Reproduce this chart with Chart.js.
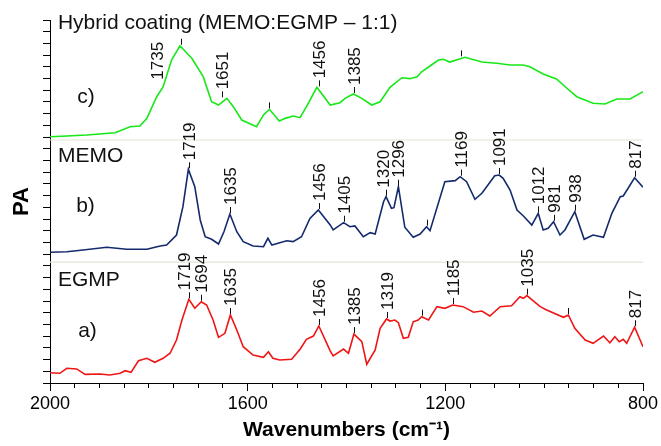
<!DOCTYPE html>
<html>
<head>
<meta charset="utf-8">
<script src="https://cdn.jsdelivr.net/npm/chart.js@4.4.1/dist/chart.umd.min.js"></script>
<style>
  html, body { margin: 0; padding: 0; background: #fff; }
</style>
</head>
<body>
<canvas id="ftir" width="661" height="446"></canvas>
<script>
// Spectra: wavenumber (cm-1) and PA signal (arbitrary offset units)
const hybridWn = [2000, 1966, 1926, 1868, 1838, 1818, 1804, 1784, 1771, 1754, 1737, 1713, 1690, 1673, 1659, 1642, 1629, 1612, 1582, 1568,
  1556, 1536, 1524, 1508, 1494, 1481, 1460, 1433, 1413, 1403, 1386, 1369, 1349, 1332, 1312, 1288, 1272, 1257, 1248, 1231,
  1214, 1204, 1191, 1160, 1126, 1096, 1069, 1042, 1029, 1002, 975, 954, 934, 901, 877, 853, 826, 800];
const hybridPA = [21.03, 21.09, 21.18, 21.37, 21.89, 21.95, 22.60, 24.45, 25.30, 27.58, 28.80, 27.73, 26.16, 24.02, 23.74, 24.31, 23.60, 22.46, 21.89, 22.89,
  23.37, 22.37, 22.60, 22.80, 22.66, 23.60, 25.25, 23.74, 23.94, 24.31, 24.68, 24.31, 23.74, 24.02, 25.25, 26.07, 25.99, 26.16, 26.58, 27.07,
  27.58, 27.64, 27.41, 27.81, 27.41, 27.30, 27.16, 27.16, 27.01, 26.39, 25.96, 25.17, 24.45, 23.89, 23.83, 24.25, 24.25, 24.88];

const memoWn = [2000, 1966, 1933, 1885, 1845, 1804, 1777, 1764, 1744, 1731, 1720, 1707, 1696, 1686, 1673, 1659, 1648, 1636, 1622, 1609,
  1589, 1568, 1559, 1551, 1535, 1521, 1508, 1491, 1474, 1457, 1433, 1427, 1406, 1393, 1383, 1366, 1352, 1342, 1325, 1320,
  1309, 1304, 1295, 1282, 1265, 1251, 1238, 1231, 1201, 1180, 1170, 1157, 1140, 1126, 1100, 1091, 1083, 1069, 1055, 1042,
  1025, 1012, 1002, 992, 981, 968, 958, 938, 919, 901, 880, 863, 846, 840, 817, 800];
const memoPA = [11.16, 11.21, 11.36, 11.59, 11.42, 11.42, 11.70, 11.78, 12.64, 15.06, 18.25, 16.76, 13.92, 12.49, 12.27, 11.87, 12.92, 14.43, 12.92, 12.07,
  11.70, 11.64, 12.36, 11.78, 11.98, 12.15, 12.07, 12.49, 14.06, 14.77, 13.50, 13.07, 13.69, 13.35, 13.41, 12.49, 12.84, 12.72, 15.48, 15.91,
  14.92, 14.97, 16.76, 13.30, 12.44, 12.72, 13.35, 13.01, 17.19, 17.28, 17.62, 17.19, 15.69, 16.20, 17.70, 17.76, 17.48, 16.48, 14.77, 14.26,
  13.49, 14.49, 13.07, 13.21, 13.77, 12.64, 13.07, 14.63, 12.27, 12.64, 12.44, 14.49, 15.91, 15.97, 17.53, 16.71];

const egmpWn = [2000, 1980, 1966, 1946, 1929, 1899, 1879, 1858, 1848, 1836, 1821, 1804, 1788, 1771, 1757, 1744, 1733, 1719, 1707, 1694,
  1683, 1670, 1659, 1646, 1635, 1622, 1609, 1589, 1568, 1558, 1549, 1535, 1511, 1494, 1481, 1467, 1456, 1433, 1427, 1406,
  1396, 1385, 1369, 1359, 1342, 1332, 1319, 1312, 1302, 1295, 1285, 1275, 1265, 1255, 1248, 1234, 1217, 1201, 1185, 1164,
  1143, 1126, 1110, 1089, 1066, 1049, 1042, 1035, 1008, 995, 961, 951, 938, 917, 901, 880, 867, 857, 848, 840,
  833, 817, 800];
const egmpPA = [0.88, 0.83, 1.26, 1.20, 0.74, 0.77, 0.68, 0.83, 1.05, 0.91, 1.90, 2.11, 1.77, 2.11, 2.54, 3.67, 5.38, 7.15, 6.38, 6.94,
  6.66, 5.38, 3.90, 4.24, 5.81, 4.53, 3.10, 2.39, 2.19, 2.67, 2.11, 1.96, 2.02, 2.88, 3.73, 4.01, 4.87, 2.75, 2.31, 2.90,
  2.54, 4.18, 3.53, 1.60, 2.82, 4.67, 5.47, 5.29, 5.38, 5.15, 3.82, 3.90, 5.23, 5.38, 5.66, 5.38, 6.52, 6.38, 6.66, 6.52,
  6.04, 6.15, 5.72, 6.52, 6.60, 7.37, 7.23, 7.46, 6.52, 6.23, 5.61, 5.81, 4.67, 3.67, 3.39, 4.01, 3.44, 3.95, 3.53, 3.73,
  3.39, 4.76, 3.10];

// marked peaks ('' = tick without a number)
const hybridPeaks = [1735, 1651, 1556, 1456, 1385, 1169];
const hybridPeakText = ['1735', '1651', '', '1456', '1385', ''];
const memoPeaks = [1719, 1635, 1456, 1405, 1320, 1296, 1238, 1169, 1091, 1012, 981, 938, 817];
const memoPeakText = ['1719', '1635', '1456', '1405', '1320', '1296', '', '1169', '1091', '1012', '981', '938', '817'];
const egmpPeaks = [1719, 1694, 1635, 1456, 1385, 1319, 1248, 1185, 1035, 951, 817];
const egmpPeakText = ['1719', '1694', '1635', '1456', '1385', '1319', '', '1185', '1035', '', '817'];

// x ticks and panel boundaries
const majorTicks = [2000, 1600, 1200, 800];
const panelBounds = [10.33, 20.75];

const FONT = "'Liberation Sans', Arial, sans-serif";

const toPoints = (xs, ys) => xs.map((x, i) => ({ x: x, y: ys[i] }));

const series = [
  { label: 'Hybrid coating', wn: hybridWn, pa: hybridPA, color: '#17e817', peaks: hybridPeaks, text: hybridPeakText },
  { label: 'MEMO', wn: memoWn, pa: memoPA, color: '#142a6c', peaks: memoPeaks, text: memoPeakText },
  { label: 'EGMP', wn: egmpWn, pa: egmpPA, color: '#f01515', peaks: egmpPeaks, text: egmpPeakText }
];

const datasets = series.map(s => ({
  label: s.label,
  data: toPoints(s.wn, s.pa),
  borderColor: s.color,
  borderWidth: 1.6,
  pointRadius: 0,
  tension: 0
}));
panelBounds.forEach(b => datasets.push({
  label: 'bound',
  data: [{ x: 2000, y: b }, { x: 800, y: b }],
  borderColor: '#e6e3cf',
  borderWidth: 1.2,
  pointRadius: 0,
  order: 10
}));

// peak ticks + rotated numbers, and the panel captions
const peakLabels = {
  id: 'peakLabels',
  afterDatasetsDraw(chart, args, opts) {
    const { ctx, scales: { x, y } } = chart;
    ctx.save();
    ctx.fillStyle = '#111';
    ctx.strokeStyle = '#111';
    ctx.lineWidth = 1;

    series.forEach(s => {
      s.peaks.forEach((wn, i) => {
        // peak height = highest point of the spectrum near that wavenumber
        let top = -Infinity;
        s.wn.forEach((w, j) => { if (Math.abs(w - wn) <= 9 && s.pa[j] > top) top = s.pa[j]; });
        const px = Math.round(x.getPixelForValue(wn)) + 0.5;
        const py = y.getPixelForValue(top);
        ctx.beginPath();
        ctx.moveTo(px, py - 1);
        ctx.lineTo(px, py - 7);
        ctx.stroke();
        const txt = s.text[i];
        if (!txt) return;
        let tx = px, ty = py - 9;
        const moved = opts.textAt[txt + ' ' + s.label];
        if (moved) {
          tx = x.getPixelForValue(moved[0]);
          if (moved[1] !== null) ty = y.getPixelForValue(moved[1]);
        }
        ctx.save();
        ctx.translate(tx, ty);
        ctx.rotate(-Math.PI / 2);
        ctx.font = '17px ' + FONT;
        ctx.textAlign = 'left';
        ctx.textBaseline = 'middle';
        ctx.fillText(txt, 0, 1);
        ctx.restore();
      });
    });

    ctx.font = '21px ' + FONT;
    ctx.textAlign = 'left';
    ctx.textBaseline = 'alphabetic';
    opts.captions.forEach(c => {
      ctx.fillText(c.text, x.getPixelForValue(c.x), y.getPixelForValue(c.y));
    });
    ctx.restore();
  }
};

const whiteBg = {
  id: 'whiteBg',
  beforeDraw(chart) {
    const ctx = chart.ctx;
    ctx.save();
    ctx.fillStyle = '#fff';
    ctx.fillRect(0, 0, chart.width, chart.height);
    ctx.restore();
  }
};

const ctx = document.getElementById('ftir').getContext('2d');
const chart = new Chart(ctx, {
  type: 'line',
  data: { datasets: datasets },
  options: {
    responsive: false,
    animation: false,
    layout: { padding: { top: 20, right: 18, left: 0, bottom: 0 } },
    plugins: {
      legend: { display: false },
      tooltip: { enabled: false },
      peakLabels: {
        textAt: {
          '1735 Hybrid coating': [1782, 25.9],
          '1719 EGMP': [1729, null],
          '1320 MEMO': [1325, null]
        },
        captions: [
          { text: 'Hybrid coating (MEMO:EGMP \u2013 1:1)', x: 1984, y: 30.2 },
          { text: 'c)', x: 1945, y: 23.9 },
          { text: 'MEMO', x: 1984, y: 18.85 },
          { text: 'b)', x: 1947, y: 14.6 },
          { text: 'EGMP', x: 1984, y: 8.3 },
          { text: 'a)', x: 1943, y: 3.95 }
        ]
      }
    },
    scales: {
      x: {
        type: 'linear',
        position: 'bottom',
        weight: 1,
        min: 800,
        max: 2000,
        reverse: true,
        afterBuildTicks: axis => { axis.ticks = majorTicks.map(v => ({ value: v })); },
        ticks: {
          color: '#000',
          font: { family: FONT, size: 18 },
          padding: 2,
          maxRotation: 0,
          autoSkip: false,
          callback: v => String(v)
        },
        grid: { drawOnChartArea: false, tickLength: 8, color: '#000' },
        border: { color: '#000', width: 1 },
        title: {
          display: true,
          text: 'Wavenumbers (cm\u207B\u00B9)',
          color: '#000',
          font: { family: FONT, size: 21, weight: 'bold' },
          padding: { top: 0, bottom: 3 }
        },
        afterFit: axis => { axis.height = 63; }
      },
      xMinor: {
        type: 'linear',
        position: 'bottom',
        weight: 0,
        min: 800,
        max: 2000,
        reverse: true,
        ticks: { display: false, stepSize: 50, autoSkip: false },
        grid: { drawOnChartArea: false, tickLength: 5, color: '#000' },
        border: { display: false },
        afterFit: axis => { axis.height = 0; }
      },
      y: {
        min: 0,
        max: 31,
        ticks: { display: false, stepSize: 1 },
        grid: { drawOnChartArea: false, tickLength: 7, color: '#000' },
        border: { color: '#000', width: 1 },
        title: {
          display: true,
          text: 'PA',
          color: '#000',
          font: { family: FONT, size: 22, weight: 'bold' },
          padding: { top: 9, bottom: 0 }
        },
        afterFit: axis => { axis.width = 50; }
      }
    }
  },
  plugins: [whiteBg, peakLabels]
});
</script>
</body>
</html>
